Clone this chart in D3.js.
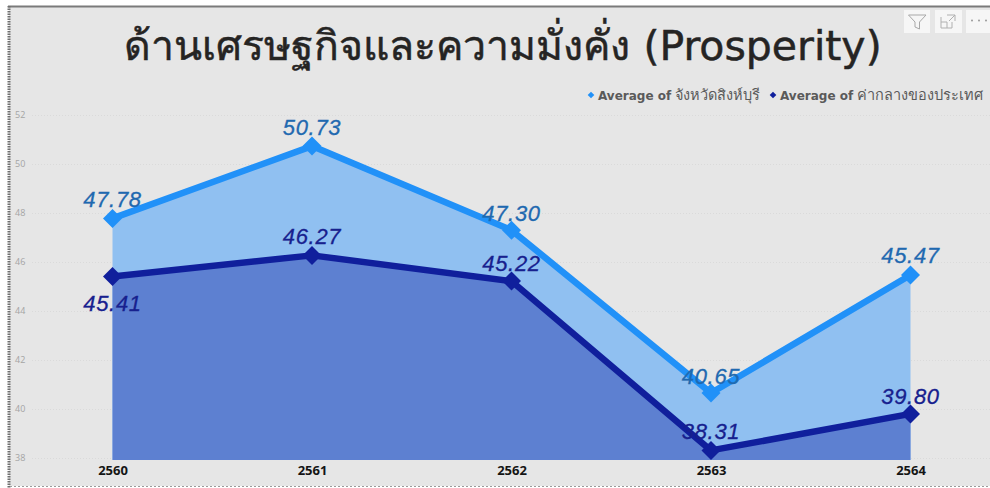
<!DOCTYPE html>
<meta charset="utf-8">
<style>
  html, body { margin: 0; padding: 0; background: #fff; overflow: hidden; }
  text { font-family: "Liberation Sans", "Noto Sans", sans-serif; }
</style>

<!-- Load d3.js -->
<script src="https://d3js.org/d3.v7.min.js"></script>

<div id="my_dataviz"></div>
<script>

// data
var years = ["2560", "2561", "2562", "2563", "2564"];
var province = [47.78, 50.73, 47.30, 40.65, 45.47];
var national = [45.41, 46.27, 45.22, 38.31, 39.80];
var yTicks = [38, 40, 42, 44, 46, 48, 50, 52];
var titleText = "ด้านเศรษฐกิจและความมั่งคั่ง (Prosperity)";
var legendNames = ["จังหวัดสิงห์บุรี", "ค่ากลางของประเทศ"];

var width = 990, height = 488;

var svg = d3.select("#my_dataviz")
  .append("svg")
    .attr("width", width)
    .attr("height", height)
    .style("display", "block");

// panel background
svg.append("rect").attr("width", width).attr("height", height).attr("fill", "#fff");
svg.append("rect")
  .attr("x", 9).attr("y", 7).attr("width", 981).attr("height", 479)
  .attr("fill", "#e6e6e6");

// scales
var x = d3.scalePoint().domain(years).range([112.5, 910.5]);
var y = d3.scaleLinear().domain([38, 52]).range([458, 115]);
var baseline = 37.92;

// y gridlines and labels
var yAxis = svg.append("g")
  .attr("transform", "translate(32,0)")
  .call(d3.axisLeft(y).tickValues(yTicks).tickSize(-958).tickFormat(d3.format("d")));
yAxis.select(".domain").remove();
yAxis.selectAll("line")
  .attr("stroke", "#dadada")
  .attr("stroke-dasharray", "1 2");
yAxis.selectAll("text")
  .attr("x", -17)
  .attr("text-anchor", "start")
  .attr("fill", "#a4a4a4")
  .style("font-family", "'Open Sans', sans-serif")
  .style("font-size", "9px");

// x axis labels
var xAxis = svg.append("g")
  .attr("transform", "translate(0,460)")
  .call(d3.axisBottom(x).tickSize(0).tickPadding(6));
xAxis.select(".domain").remove();
xAxis.selectAll("text")
  .attr("fill", "#141414")
  .style("font-family", "'Open Sans', sans-serif")
  .style("font-weight", "700")
  .style("font-size", "13px");

// areas
function areaFor(values) {
  return d3.area()
    .x(function(d, i) { return x(years[i]); })
    .y0(y(baseline))
    .y1(function(d) { return y(d); })(values);
}
svg.append("path").attr("d", areaFor(province)).attr("fill", "#90c0f1");
svg.append("path").attr("d", areaFor(national)).attr("fill", "#5d80d1");

// lines and diamonds
var series = [
  {values: province, color: "#2191f8", labelColor: "#1f69b0", dy: [-11, -11, -9, -9, -12]},
  {values: national, color: "#101f9c", labelColor: "#17208e", dy: [35, -11, -10, -11, -10]}
];
var line = d3.line()
  .x(function(d, i) { return x(years[i]); })
  .y(function(d) { return y(d); });
var diamond = d3.symbol().type(d3.symbolDiamond2 || d3.symbolDiamond).size(230);

series.forEach(function(s) {
  svg.append("path")
    .attr("d", line(s.values))
    .attr("fill", "none")
    .attr("stroke", s.color)
    .attr("stroke-width", 6.5)
    .attr("stroke-linejoin", "round");
  svg.selectAll(null)
    .data(s.values)
    .enter().append("path")
      .attr("d", diamond)
      .attr("fill", s.color)
      .attr("transform", function(d, i) { return "translate(" + x(years[i]) + "," + y(d) + ")"; });
});

// data labels
series.forEach(function(s) {
  svg.selectAll(null)
    .data(s.values)
    .enter().append("text")
      .attr("x", function(d, i) { return x(years[i]); })
      .attr("y", function(d, i) { return y(d) + s.dy[i]; })
      .attr("text-anchor", "middle")
      .attr("fill", s.labelColor)
      .attr("stroke", s.labelColor)
      .attr("stroke-width", 0.3)
      .style("font-style", "italic")
      .style("font-size", "22px")
      .style("letter-spacing", "0.7px")
      .text(function(d) { return d.toFixed(2); });
});

// title
svg.append("text")
  .attr("x", 503).attr("y", 60)
  .attr("text-anchor", "middle")
  .attr("fill", "#252423")
  .attr("stroke", "#252423")
  .attr("stroke-width", 0.5)
  .style("font-family", "'DejaVu Sans', 'Noto Sans', sans-serif")
  .style("font-size", "41px")
  .text(titleText);

// legend
var legendX = [591, 773];
legendNames.forEach(function(name, i) {
  svg.append("path")
    .attr("d", d3.symbol().type(d3.symbolDiamond2 || d3.symbolDiamond).size(28))
    .attr("fill", series[i].color)
    .attr("transform", "translate(" + legendX[i] + ",95)");
  var t = svg.append("text")
    .attr("x", legendX[i] + 7).attr("y", 100)
    .attr("fill", "#5a5a5a")
    .style("font-family", "'DejaVu Sans', sans-serif")
    .style("font-size", "12px");
  t.append("tspan").style("font-weight", "700").text("Average of ");
  t.append("tspan").style("font-size", "14.5px").style("font-weight", "500").text(name);
});

// frame
svg.append("line").attr("x1", 8).attr("x2", 990).attr("y1", 6.5).attr("y2", 6.5)
  .attr("stroke", "#7a7a7a").attr("stroke-width", 2);
svg.append("line").attr("x1", 9).attr("x2", 9).attr("y1", 6).attr("y2", 488)
  .attr("stroke", "#6e6e6e").attr("stroke-width", 3).attr("stroke-dasharray", "1.5 1");
svg.append("line").attr("x1", 10).attr("x2", 990).attr("y1", 486.5).attr("y2", 486.5)
  .attr("stroke", "#9a9a9a").attr("stroke-width", 1).attr("stroke-dasharray", "2 2");

// visual header icons
var iconX = [904, 935, 966], iconW = [26, 27, 24];
iconX.forEach(function(ix, i) {
  svg.append("rect").attr("x", ix).attr("y", 10).attr("width", iconW[i]).attr("height", 23).attr("fill", "#f6f6f6");
});
svg.append("path").attr("d", "M908.5,15H926L919.5,22V29L915,27V22Z")
  .attr("fill", "none").attr("stroke", "#a8a8a8");
svg.append("path").attr("d", "M941,17V28H952V22M941,22H947V28M947,15H955V21M955,15L949,21")
  .attr("fill", "none").attr("stroke", "#b0b0b0");
svg.selectAll(null).data([972, 979, 986]).enter().append("circle")
  .attr("cx", function(d) { return d; }).attr("cy", 20.5).attr("r", 1).attr("fill", "#999");

</script>
